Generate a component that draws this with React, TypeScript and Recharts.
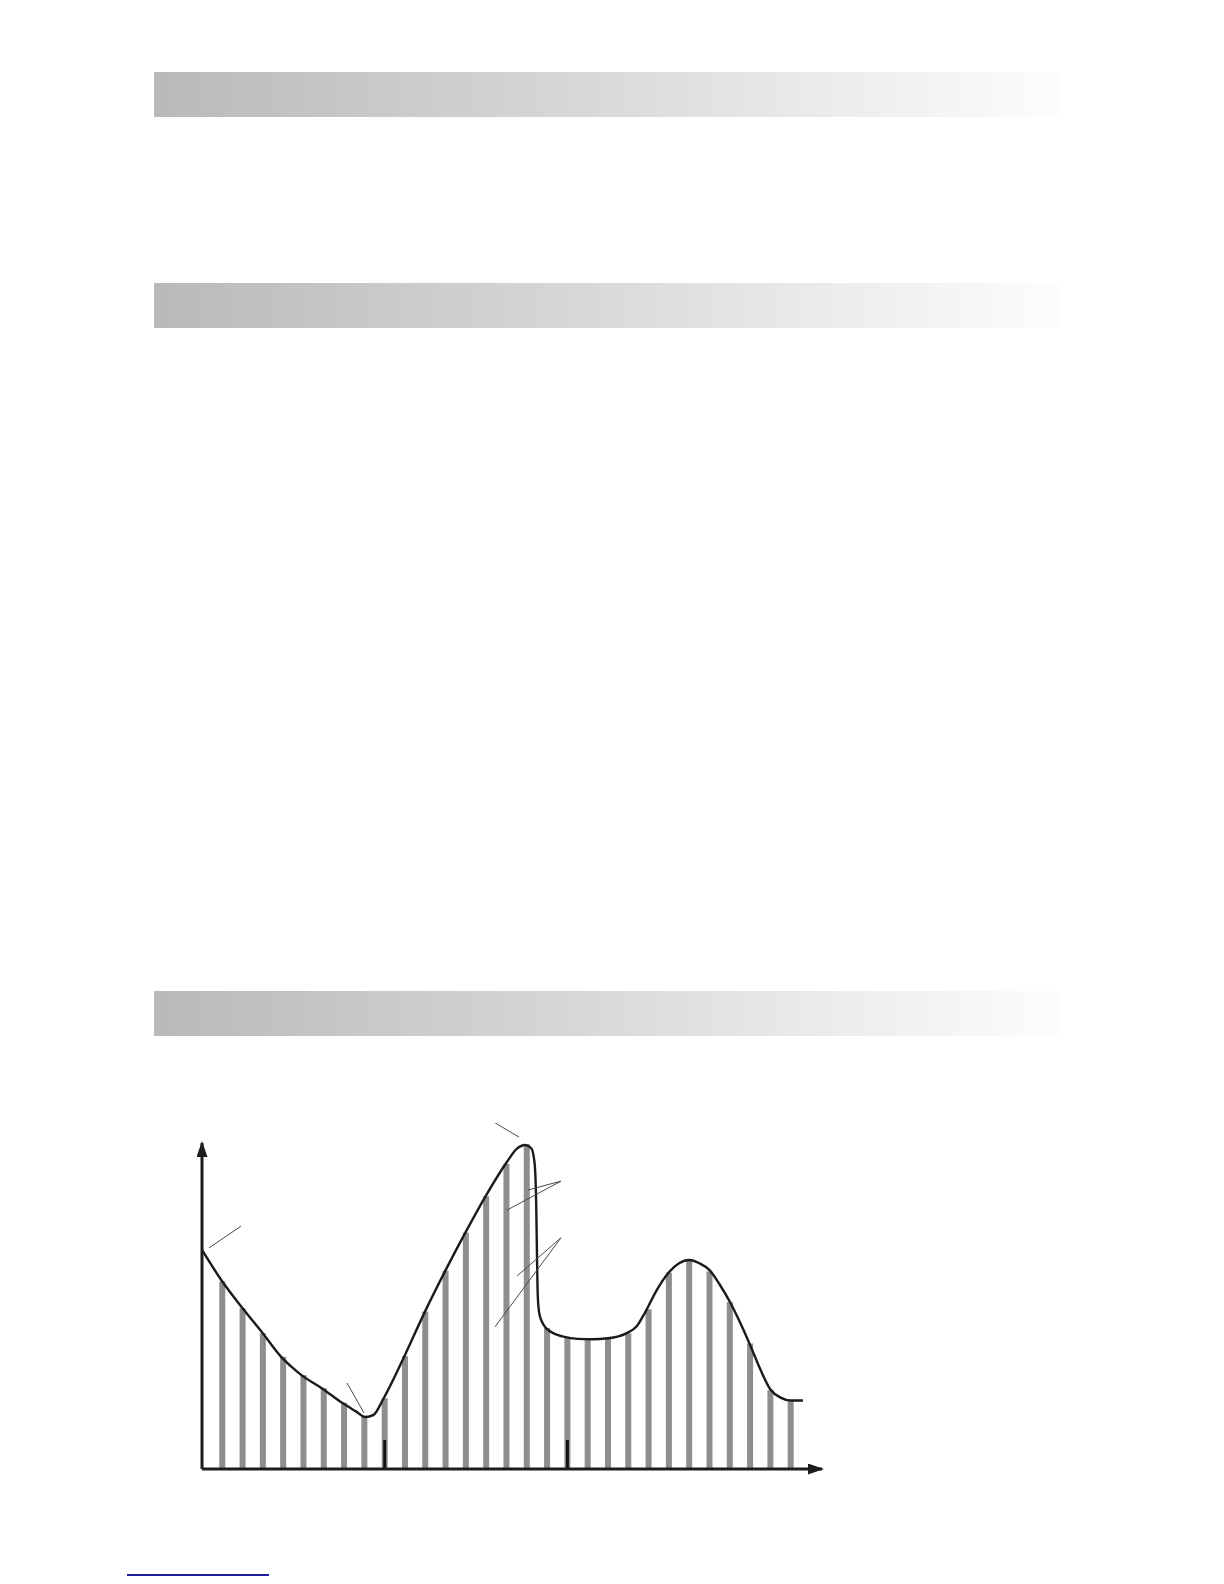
import { ComposedChart, Bar, Line, XAxis, YAxis, ReferenceLine } from "recharts";

// bar positions (time steps) and the height of each bar
const barSteps = [1, 2, 3, 4, 5, 6, 7, 8, 9, 10, 11, 12, 13, 14, 15, 16, 17, 18, 19, 20, 21, 22, 23, 24, 25, 26, 27, 28, 29];
const barLevels = [57.5, 49.3, 41.6, 34.4, 28.8, 24.8, 20.3, 16.4, 21.7, 34.6, 48.3, 60.8, 72.5, 83.7, 93.6, 99.6, 43.2, 40.3, 39.8, 40.1, 41.6, 49, 60.2, 64, 60.6, 51.2, 38.5, 24.2, 20.8];

// envelope curve
const curveX = [0, 1, 2, 3, 3.9, 4.4, 4.9, 5.9, 6.9, 7.6, 8.05, 8.45, 8.95, 10, 11, 12, 13, 14, 15, 15.5, 15.92, 16.22, 16.38, 16.46, 16.5, 16.54, 16.62, 16.8, 17.2, 17.8, 18.5, 19.2, 20, 20.9, 21.4, 21.85, 22.4, 22.95, 23.5, 24, 24.5, 25, 25.5, 26, 26.5, 27, 27.5, 28, 28.5, 29, 29.6];
const curveY = [67.2, 57.5, 49.3, 41.6, 34.4, 31.4, 28.8, 24.8, 20.3, 17.6, 15.9, 16.6, 21.7, 35, 48.5, 61, 72.8, 84, 94, 98.2, 99.4, 98.4, 94, 82, 66, 53, 47.5, 44.5, 42, 40.6, 39.9, 39.8, 40.1, 41.6, 43.7, 48.3, 54.9, 60, 63.1, 64.1, 63.1, 61, 56.6, 51.3, 45, 38, 30.6, 24.4, 21.9, 21, 21];

// marks on the time axis
const axisMarks = [9, 18];
const axisMarkHeight = 8.9;

// annotation pointer lines: [t1, v1, t2, v2]
const pointers = [
  [0.34, 67.8, 1.92, 74.5],
  [7.14, 26.4, 7.98, 17.2],
  [14.19, 107.1, 15.62, 101.8],
  [16.06, 85.6, 17.68, 88.3],
  [15.02, 79.4, 17.68, 88.3],
  [15.52, 59.2, 17.68, 70.9],
  [14.43, 43.6, 17.68, 70.9],
];

const bars = barSteps.map((t, i) => ({ t, v: barLevels[i] }));
const curve = curveX.map((t, i) => ({ t, c: curveY[i] }));

const headerTops = [72, 283, 991];

function Header({ top }: { top: number }) {
  return (
    <div
      style={{
        position: "absolute",
        left: 154,
        top,
        width: 906,
        height: 45,
        background: "linear-gradient(to right, #bab9b9 0%, #d6d6d6 45%, #ececec 75%, #fdfdfd 100%)",
      }}
    />
  );
}

// thin vertical stripe centred on the step
function Stripe(props: any) {
  const { x, y, width, height } = props;
  if (height == null || height <= 0) return null;
  return <rect x={x + width / 2 - 3} y={y} width={6} height={height} fill="#8e8e8e" />;
}

export default function App() {
  return (
    <div style={{ position: "absolute", left: 0, top: 0, width: 1224, height: 1584, background: "#fff" }}>
      <svg width={0} height={0} style={{ position: "absolute" }}>
        <defs>
          <marker
            id="arrowHead"
            markerUnits="userSpaceOnUse"
            markerWidth={16}
            markerHeight={11}
            refX={14}
            refY={5.5}
            orient="auto-start-reverse"
          >
            <path d="M0,0 L16,5.5 L0,11 z" fill="#1c1c1c" />
          </marker>
        </defs>
      </svg>

      {headerTops.map((top) => (
        <Header key={top} top={top} />
      ))}

      <div style={{ position: "absolute", left: 182, top: 1123 }}>
        <ComposedChart
          width={660}
          height={366}
          data={bars}
          margin={{ top: 20, right: 20, bottom: 19, left: 19 }}
        >
          <XAxis
            dataKey="t"
            type="number"
            domain={[0, 30.54]}
            height={1}
            tick={false}
            tickLine={false}
            axisLine={{ stroke: "#1c1c1c", strokeWidth: 3, markerEnd: "url(#arrowHead)" }}
          />
          <YAxis
            type="number"
            domain={[0, 100]}
            width={1}
            tick={false}
            tickLine={false}
            axisLine={{ stroke: "#1c1c1c", strokeWidth: 3, markerStart: "url(#arrowHead)" }}
          />
          <Bar dataKey="v" barSize={6} fill="#8e8e8e" shape={Stripe} isAnimationActive={false} />
          <Line
            data={curve}
            dataKey="c"
            type="monotone"
            stroke="#1a1a1a"
            strokeWidth={2.4}
            dot={false}
            activeDot={false}
            isAnimationActive={false}
          />
          {axisMarks.map((t) => (
            <ReferenceLine
              key={t}
              segment={[{ x: t, y: 0 }, { x: t, y: axisMarkHeight }]}
              stroke="#111"
              strokeWidth={3}
              ifOverflow="visible"
            />
          ))}
          {pointers.map((p, i) => (
            <ReferenceLine
              key={i}
              segment={[{ x: p[0], y: p[1] }, { x: p[2], y: p[3] }]}
              stroke="#4a4a4a"
              strokeWidth={1}
              ifOverflow="visible"
            />
          ))}
        </ComposedChart>
      </div>

      <div style={{ position: "absolute", left: 127, top: 1574, width: 142, height: 2, background: "#1d1d9c" }} />
    </div>
  );
}
